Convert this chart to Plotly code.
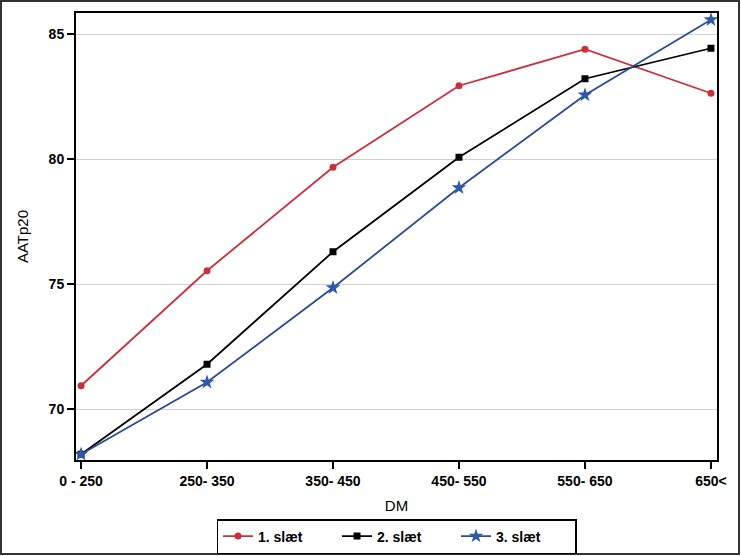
import plotly.graph_objects as go

categories = ["0 - 250", "250- 350", "350- 450", "450- 550", "550- 650", "650<"]
sleet1 = [70.93, 75.53, 79.67, 82.93, 84.39, 82.63]
sleet2 = [68.19, 71.79, 76.29, 80.07, 83.21, 84.43]
sleet3 = [68.19, 71.07, 74.85, 78.85, 82.56, 85.57]
series_names = ["1. slæt", "2. slæt", "3. slæt"]
y_ticks = [70, 75, 80, 85]

L, R, T, B = 76, 717, 13, 460
W, H = 741, 556
pw, ph = R - L, B - T

fig = go.Figure()
fig.add_trace(go.Scatter(x=list(range(len(categories))), y=sleet1, name=series_names[0],
                         mode="lines+markers", line=dict(color="#c8303c", width=1.8),
                         marker=dict(symbol="circle", size=7, color="#c8303c")))
fig.add_trace(go.Scatter(x=list(range(len(categories))), y=sleet2, name=series_names[1],
                         mode="lines+markers", line=dict(color="#000000", width=1.8),
                         marker=dict(symbol="square", size=7, color="#000000")))
fig.add_trace(go.Scatter(x=list(range(len(categories))), y=sleet3, name=series_names[2],
                         mode="lines+markers", line=dict(color="#2c4a90", width=1.8),
                         marker=dict(symbol="star", size=11, color="#2c5aa8")))

fig.update_layout(
    width=W, height=H,
    margin=dict(l=L, r=W - R, t=T, b=H - B, autoexpand=False),
    paper_bgcolor="white", plot_bgcolor="white",
    font=dict(family="Liberation Sans, Arial, sans-serif", color="black", size=13),
    showlegend=True,
    legend=dict(orientation="h", x=0.5, xanchor="center", xref="paper",
                y=1 - 519 / H, yanchor="top", yref="container",
                bordercolor="black", borderwidth=1.5, font=dict(size=14, weight="bold"),
                entrywidth=74, entrywidthmode="pixels", tracegroupgap=0),
)
fig.update_xaxes(
    range=[-0.04, 5.048], tickmode="array", tickvals=list(range(len(categories))),
    ticktext=categories, ticks="outside", ticklen=7, tickwidth=1.5, tickcolor="black",
    showgrid=False, zeroline=False, showline=True, linecolor="black", linewidth=2, mirror=True,
    tickfont=dict(size=14, weight="bold"), automargin=False,
    title=dict(text="DM", font=dict(size=15), standoff=13),
)
fig.update_yaxes(
    range=[67.96, 85.84], tickmode="array", tickvals=y_ticks,
    ticks="outside", ticklen=7, tickwidth=1.5, tickcolor="black",
    showgrid=True, gridcolor="#d0d0d0", gridwidth=1, zeroline=False,
    showline=True, linecolor="black", linewidth=2, mirror=True,
    tickfont=dict(size=14, weight="bold"), automargin=False,
    title=dict(text="AATp20", font=dict(size=15), standoff=16),
)
fig.add_shape(type="rect", xref="paper", yref="paper",
              x0=(1 - L) / pw, x1=(739 - L) / pw, y0=(B - 554) / ph, y1=(B - 1) / ph,
              line=dict(color="#333333", width=2), fillcolor="rgba(0,0,0,0)", layer="below")

fig.write_html("out.html", config={"displayModeBar": False},
               post_script="document.body.style.margin='0';document.body.style.overflow='hidden';")
